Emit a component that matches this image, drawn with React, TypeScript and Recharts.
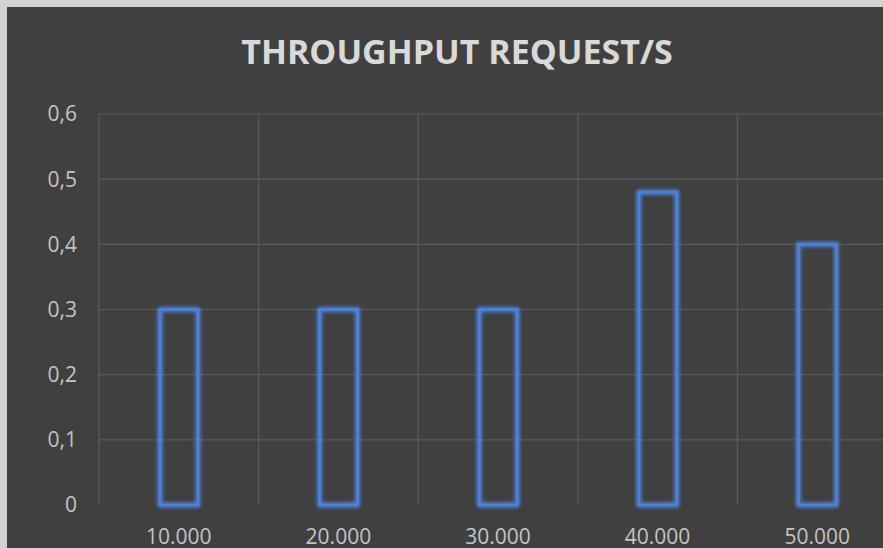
import React from 'react';
import { BarChart, Bar, XAxis, YAxis, CartesianGrid } from 'recharts';

const categories = ['10.000', '20.000', '30.000', '40.000', '50.000'];
const throughput = [0.3, 0.3, 0.3, 0.48, 0.4];
const yTicks = [0, 0.1, 0.2, 0.3, 0.4, 0.5, 0.6];
const gridValues = [0.1, 0.2, 0.3, 0.4, 0.5, 0.6];

const data = categories.map((name, i) => ({ name, value: throughput[i] }));

const fmt = (v: number) => String(v).replace('.', ',');

const GlowBar = (props: any) => {
  const { x, y, width, height } = props;
  return (
    <rect
      x={x}
      y={y}
      width={width}
      height={height}
      fill="none"
      stroke="#4f7fd2"
      strokeWidth={3}
      filter="url(#barGlow)"
    />
  );
};

export default function App() {
  return (
    <div style={{ position: 'absolute', left: 0, top: 0, width: 883, height: 548, background: '#d2d2d2', overflow: 'hidden' }}>
      <div
        style={{
          position: 'absolute',
          left: 7,
          top: 7,
          width: 876,
          height: 541,
          background: '#404040',
          overflow: 'hidden',
          fontFamily: '"Open Sans", sans-serif',
        }}
      >
        <div
          style={{
            position: 'absolute',
            left: 450 - 300,
            width: 600,
            top: 21,
            textAlign: 'center',
            color: '#d9d9d9',
            fontWeight: 700,
            fontSize: 34,
            lineHeight: '46px',
          }}
        >
          THROUGHPUT REQUEST/S
        </div>
        <div style={{ position: 'absolute', left: 0, top: 0 }}>
          <BarChart
            width={900}
            height={560}
            data={data}
            margin={{ top: 107, right: 10, bottom: 0, left: 0 }}
          >
            <defs>
              <filter id="barGlow" x="-50%" y="-10%" width="200%" height="120%">
                <feGaussianBlur in="SourceGraphic" stdDeviation="2.2" result="blur" />
                <feMerge>
                  <feMergeNode in="blur" />
                  <feMergeNode in="blur" />
                  <feMergeNode in="SourceGraphic" />
                </feMerge>
              </filter>
            </defs>
            <CartesianGrid
              stroke="#5a5a5a"
              strokeWidth={1.2}
              horizontalValues={gridValues}
              verticalCoordinatesGenerator={({ offset }: any) =>
                categories.map((_, i) => offset.left + (i * offset.width) / categories.length)
              }
            />
            <XAxis
              dataKey="name"
              axisLine={false}
              tickLine={false}
              tickSize={0}
              tickMargin={24}
              height={62}
              interval={0}
              tick={{ fill: '#c4c4c4', fontSize: 21 }}
            />
            <YAxis
              domain={[0, 0.6]}
              ticks={yTicks}
              width={92}
              axisLine={false}
              tickLine={false}
              tickSize={0}
              tickMargin={22}
              tickFormatter={fmt}
              tick={{ fill: '#c4c4c4', fontSize: 21 }}
            />
            <Bar dataKey="value" barSize={38} shape={GlowBar} isAnimationActive={false} />
          </BarChart>
        </div>
      </div>
    </div>
  );
}
